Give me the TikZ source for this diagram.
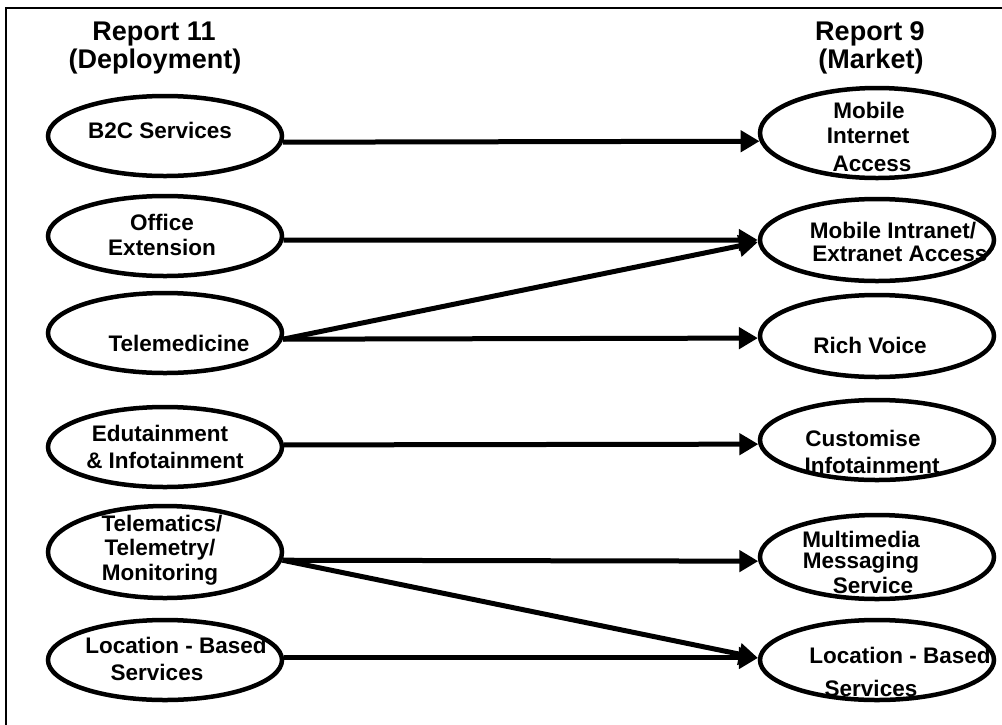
\documentclass[tikz,border=0pt]{standalone}
\usepackage{fontspec}
\setmainfont{Liberation Sans}
\usetikzlibrary{arrows.meta,shapes.geometric}
\begin{document}
\begin{tikzpicture}[x=1pt,y=-1pt,
  oval/.style={draw, line width=4.5pt, ellipse, minimum width=234pt, minimum height=80pt, inner sep=0pt},
  lbl/.style={anchor=base, inner sep=0pt, font=\bfseries\fontsize{22.5}{26}\selectfont},
  ttl/.style={anchor=base, inner sep=0pt, font=\bfseries\fontsize{27}{30}\selectfont},
  arr/.style={line width=5pt, -{Triangle[length=19pt,width=21pt]}}]
\useasboundingbox (0,0) rectangle (1002,724);
\clip (0,0) rectangle (1002,724);
% outer frame (right and bottom sides lie beyond the page)
\draw[line width=2.5pt] (6,8) rectangle (1030,760);

% column headings
\node[ttl] (h11a) at (154,40) {Report 11};
\node[ttl] (h11b) at (155,68) {(Deployment)};
\node[ttl] (h9a)  at (870,40) {Report 9};
\node[ttl] (h9b)  at (871,68) {(Market)};

% deployment services (left column)
\node[oval] (b2c)    at (165,136) {};
\node[oval] (office) at (165,236) {};
\node[oval] (tele)   at (165,333) {};
\node[oval] (edu)    at (165,447) {};
\node[oval, minimum height=92pt] (telem) at (165,552) {};
\node[oval] (locl)   at (165,660) {};

% market services (right column)
\node[oval, minimum height=90pt] (mia) at (877,133) {};
\node[oval, minimum height=82pt] (intra) at (877,240) {};
\node[oval, minimum height=82pt] (voice) at (877,336) {};
\node[oval] (cust)  at (877,440) {};
\node[oval, minimum height=84pt] (mms) at (877,557) {};
\node[oval] (locr)  at (877,660) {};

% left labels
\node[lbl] (b2c-t)     at (160,138) {B2C Services};
\node[lbl] (office-t1) at (162,230) {Office};
\node[lbl] (office-t2) at (162,255) {Extension};
\node[lbl] (tele-t)    at (179,351) {Telemedicine};
\node[lbl] (edu-t1)    at (160,441) {Edutainment};
\node[lbl] (edu-t2)    at (165,468) {\& Infotainment};
\node[lbl] (telem-t1)  at (162,531) {Telematics/};
\node[lbl] (telem-t2)  at (160,555) {Telemetry/};
\node[lbl] (telem-t3)  at (160,580) {Monitoring};
\node[lbl] (locl-t1)   at (176,653) {Location - Based};
\node[lbl] (locl-t2)   at (157,680) {Services};

% right labels
\node[lbl] (mia-t1)   at (869,118) {Mobile};
\node[lbl] (mia-t2)   at (868,143) {Internet};
\node[lbl] (mia-t3)   at (872,171) {Access};
\node[lbl] (intra-t1) at (893,238) {Mobile Intranet/};
\node[lbl] (intra-t2) at (900,261) {Extranet Access};
\node[lbl] (voice-t)  at (870,353) {Rich Voice};
\node[lbl] (cust-t1)  at (863,446) {Customise};
\node[lbl] (cust-t2)  at (872,473) {Infotainment};
\node[lbl] (mms-t1)   at (861,547) {Multimedia};
\node[lbl] (mms-t2)   at (861,568) {Messaging};
\node[lbl] (mms-t3)   at (873,593) {Service};
\node[lbl] (locr-t1)  at (900,663) {Location - Based};
\node[lbl] (locr-t2)  at (871,696) {Services};

% mappings
\draw[arr] (b2c.-3)    -- (mia.184.4);
\draw[arr] (office.-2) -- (intra.180);
\draw[arr] (tele.-3)   -- (intra.181);
\draw[arr] (tele.-3)   -- (voice.181.5);
\draw[arr] (edu.1)     -- (cust.182.5);
\draw[arr] (telem.-4.4) -- (mms.182);
\draw[arr] (telem.-4.4) -- (locr.179.5);
\draw[arr] (locl.1)    -- (locr.179);
\end{tikzpicture}
\end{document}
